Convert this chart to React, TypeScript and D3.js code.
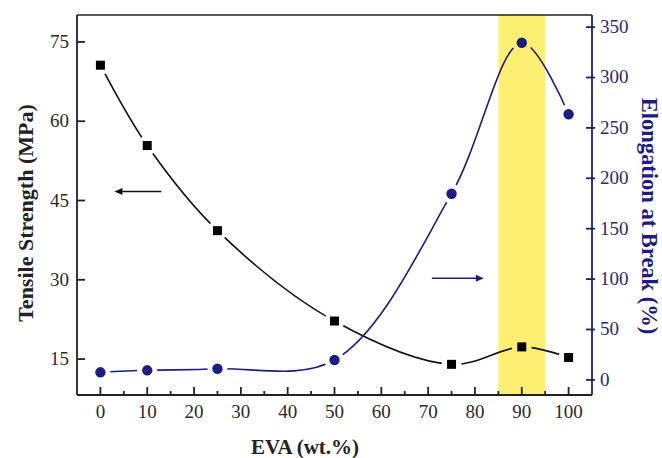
import React from "react";
import * as d3 from "d3";

const EVA = [0, 10, 25, 50, 75, 90, 100];
const TENSILE = [70.6, 55.4, 39.3, 22.2, 14.0, 17.3, 15.3];
const ELONGATION = [7.5, 9.5, 11, 19.7, 184.7, 334.5, 263.5];
const X_TICKS = [0, 10, 20, 30, 40, 50, 60, 70, 80, 90, 100];
const X_MINOR = [5, 15, 25, 35, 45, 55, 65, 75, 85, 95];
const LEFT_TICKS = [15, 30, 45, 60, 75];
const RIGHT_TICKS = [0, 50, 100, 150, 200, 250, 300, 350];
const BAND = [85, 95];
const LEFT_ARROW = { from: 13, to: 3, y: 46.7 };
const RIGHT_ARROW = { from: 70.8, to: 81.9, y: 100.8 };

const W = 662, H = 458;
const L = 77, R = 592, T = 15, B = 395;
const NAVY = "#1c1c82";
const SERIF = "Liberation Serif";

export default function App() {
  const x = d3.scaleLinear().domain([-5, 105]).range([L, R]);
  const yL = d3.scaleLinear().domain([8.2, 80.1]).range([B, T]);
  const yR = d3.scaleLinear().domain([-15, 362]).range([B, T]);

  const tData = EVA.map((e, i) => [x(e), yL(TENSILE[i])] as [number, number]);
  const eData = EVA.map((e, i) => [x(e), yR(ELONGATION[i])] as [number, number]);
  const line = d3.line().curve(d3.curveCatmullRom.alpha(0.5));

  return (
    <svg width={W} height={H} style={{ position: "absolute", left: 0, top: 0, background: "#fff" }}>
      <defs>
        <mask id="mT">
          <rect x={0} y={0} width={W} height={H} fill="#fff" />
          {tData.map((p, i) => <circle key={i} cx={p[0]} cy={p[1]} r={10} fill="#000" />)}
        </mask>
        <mask id="mE">
          <rect x={0} y={0} width={W} height={H} fill="#fff" />
          {eData.map((p, i) => <circle key={i} cx={p[0]} cy={p[1]} r={10} fill="#000" />)}
        </mask>
        <clipPath id="plot"><rect x={L} y={T} width={R - L} height={B - T} /></clipPath>
      </defs>
      <rect x={x(BAND[0])} y={T} width={x(BAND[1]) - x(BAND[0])} height={B - T} fill="#fcef72" />

      <g clipPath="url(#plot)">
        <path d={line(tData) || ""} fill="none" stroke="#111" strokeWidth={1.6} mask="url(#mT)" />
        <path d={line(eData) || ""} fill="none" stroke={NAVY} strokeWidth={1.6} mask="url(#mE)" />
      </g>
      {tData.map((p, i) => <rect key={i} x={p[0] - 4.5} y={p[1] - 4.5} width={9} height={9} fill="#000" />)}
      {eData.map((p, i) => <circle key={i} cx={p[0]} cy={p[1]} r={5.2} fill={NAVY} />)}

      {/* arrows */}
      <line x1={x(LEFT_ARROW.from)} x2={x(LEFT_ARROW.to) + 6} y1={yL(LEFT_ARROW.y)} y2={yL(LEFT_ARROW.y)} stroke="#111" strokeWidth={1.5} />
      <path d={`M${x(LEFT_ARROW.to)},${yL(LEFT_ARROW.y)} l8,-3.5 l0,7 z`} fill="#111" />
      <line x1={x(RIGHT_ARROW.from)} x2={x(RIGHT_ARROW.to) - 6} y1={yR(RIGHT_ARROW.y)} y2={yR(RIGHT_ARROW.y)} stroke={NAVY} strokeWidth={1.5} />
      <path d={`M${x(RIGHT_ARROW.to)},${yR(RIGHT_ARROW.y)} l-8,-3.5 l0,7 z`} fill={NAVY} />

      {/* frame */}
      <line x1={L} x2={R} y1={T} y2={T} stroke="#222" strokeWidth={1.6} />
      <line x1={L} x2={R} y1={B} y2={B} stroke="#222" strokeWidth={1.8} />
      <line x1={L} x2={L} y1={T} y2={B} stroke="#222" strokeWidth={1.8} />
      <line x1={R} x2={R} y1={T} y2={B} stroke={NAVY} strokeWidth={1.8} />

      {/* x ticks */}
      {X_TICKS.map(t => (
        <g key={t}>
          <line x1={x(t)} x2={x(t)} y1={B} y2={B - 8} stroke="#222" strokeWidth={1.8} />
          <text x={x(t)} y={B + 23} textAnchor="middle" fontSize={19} fontFamily={SERIF} fill="#2a2a2a">{t}</text>
        </g>
      ))}
      {X_MINOR.map(t => <line key={t} x1={x(t)} x2={x(t)} y1={B} y2={B - 4} stroke="#222" strokeWidth={1.8} />)}

      {/* left ticks */}
      {LEFT_TICKS.map(t => (
        <g key={t}>
          <line x1={L} x2={L + 8} y1={yL(t)} y2={yL(t)} stroke="#222" strokeWidth={1.8} />
          <text x={L - 8} y={yL(t) + 6} textAnchor="end" fontSize={19} fontFamily={SERIF} fill="#2a2a2a">{t}</text>
        </g>
      ))}
      {/* right ticks */}
      {RIGHT_TICKS.map(t => (
        <g key={t}>
          <line x1={R - 6} x2={R + 3} y1={yR(t)} y2={yR(t)} stroke={NAVY} strokeWidth={1.8} />
          <text x={R + 8} y={yR(t) + 6} textAnchor="start" fontSize={19} fontFamily={SERIF} fill="#2a2a6e">{t}</text>
        </g>
      ))}

      <text x={305} y={454} textAnchor="middle" fontSize={21} fontWeight="bold" fontFamily={SERIF} fill="#222">EVA (wt.%)</text>
      <text transform={`translate(33,213) rotate(-90)`} textAnchor="middle" fontSize={22} fontWeight="bold" fontFamily={SERIF} fill="#222">Tensile Strength (MPa)</text>
      <text transform={`translate(642,216) rotate(90)`} textAnchor="middle" fontSize={22.5} fontWeight="bold" fontFamily={SERIF} fill={NAVY}>Elongation at Break (%)</text>
    </svg>
  );
}
